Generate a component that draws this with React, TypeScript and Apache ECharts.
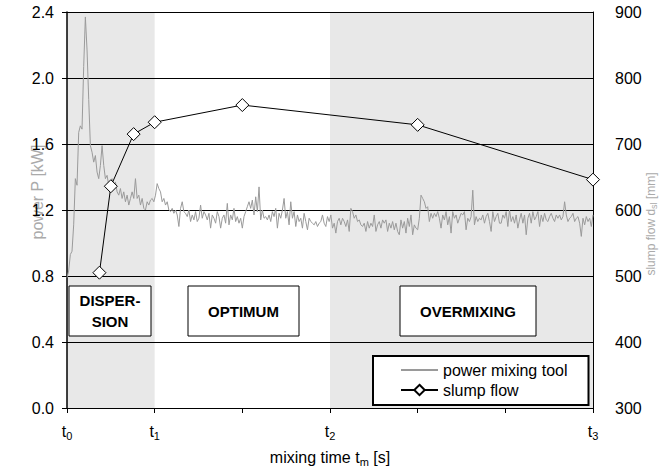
import React, { useEffect, useRef } from 'react';
import * as echarts from 'echarts';

// power of the mixing tool [kW], uniformly sampled from t0 to t3
const powerP = [
  0.79, 0.83, 0.93, 0.95, 1.11, 1.39, 1.35, 1.67, 1.71, 1.69,
  2.07, 2.37, 2.17, 1.87, 1.59, 1.55, 1.49, 1.53, 1.43, 1.39,
  1.47, 1.59, 1.47, 1.39, 1.41, 1.35, 1.37, 1.39, 1.33, 1.37,
  1.31, 1.29, 1.33, 1.27, 1.31, 1.25, 1.29, 1.23, 1.27, 1.31,
  1.27, 1.39, 1.27, 1.29, 1.23, 1.27, 1.21, 1.2, 1.25, 1.23,
  1.26, 1.27, 1.25, 1.29, 1.36, 1.33, 1.31, 1.25, 1.27, 1.23,
  1.25, 1.2, 1.19, 1.21, 1.18, 1.2, 1.17, 1.1, 1.21, 1.25,
  1.19, 1.18, 1.16, 1.2, 1.13, 1.17, 1.14, 1.19, 1.13, 1.15,
  1.23, 1.15, 1.19, 1.17, 1.14, 1.18, 1.09, 1.17, 1.15, 1.12,
  1.19, 1.16, 1.09, 1.15, 1.17, 1.12, 1.24, 1.11, 1.17, 1.14,
  1.21, 1.13, 1.16, 1.12, 1.15, 1.09, 1.16, 1.19, 1.22, 1.25,
  1.21, 1.26, 1.17, 1.28, 1.19, 1.34, 1.14, 1.2, 1.15, 1.16,
  1.14, 1.17,
  1.13, 1.19, 1.16, 1.21, 1.09, 1.18, 1.15, 1.2, 1.27, 1.15,
  1.19, 1.11, 1.25, 1.15, 1.19, 1.1, 1.17, 1.13, 1.15, 1.09,
  1.18, 1.13, 1.08, 1.15, 1.13, 1.12, 1.11, 1.13, 1.1, 1.12,
  1.13, 1.17, 1.12, 1.1, 1.16, 1.13, 1.17, 1.09, 1.12, 1.06,
  1.13, 1.15, 1.11, 1.15, 1.13, 1.1, 1.14, 1.07, 1.21, 1.19,
  1.15, 1.17, 1.13, 1.14, 1.11, 1.1, 1.12, 1.07, 1.13, 1.09,
  1.12, 1.1, 1.17, 1.07, 1.11, 1.13, 1.09, 1.14, 1.12,
  1.14, 1.07, 1.12, 1.09, 1.13, 1.08, 1.12, 1.07, 1.05, 1.14,
  1.09, 1.13, 1.06, 1.15, 1.1, 1.17, 1.05, 1.11, 1.09, 1.08,
  1.15, 1.29, 1.27, 1.25, 1.21, 1.22, 1.13, 1.18, 1.15, 1.18,
  1.16, 1.19, 1.15, 1.09, 1.17, 1.14, 1.19, 1.11, 1.16, 1.06,
  1.19, 1.15, 1.17, 1.12, 1.15, 1.18, 1.17, 1.19, 1.08, 1.15,
  1.13, 1.16, 1.32, 1.11, 1.16, 1.13, 1.15, 1.14, 1.17, 1.12,
  1.16, 1.18, 1.13, 1.07, 1.19, 1.13, 1.16, 1.18, 1.12,
  1.12, 1.17, 1.15, 1.19, 1.1, 1.2, 1.13, 1.16, 1.12, 1.17,
  1.09, 1.14, 1.18, 1.12, 1.17, 1.05, 1.15, 1.18, 1.12, 1.19,
  1.14, 1.16, 1.19, 1.1, 1.17, 1.13, 1.18, 1.14, 1.13, 1.16,
  1.18, 1.15, 1.13, 1.17, 1.15, 1.17, 1.14, 1.16, 1.25, 1.17,
  1.13, 1.15, 1.16, 1.18, 1.13, 1.15, 1.16, 1.12, 1.04, 1.15,
  1.11, 1.16, 1.13, 1.15, 1.1, 1.17,
];

// slump flow measurements
const slumpTime = [0.37, 0.5, 0.76, 1.0, 2.0, 4.0, 6.0];
const slumpFlow = [505, 636, 715, 733, 759, 729, 646];

// x axis: t0..t3 (tick positions in axis units)
const T_MAX = 6;
const timeLabels: Record<number, string> = { 0: '0', 1: '1', 3: '2', 6: '3' };

// shaded phases [from, to]
const shadedPhases = [
  [0, 1],
  [3, 6],
];

const powerAxis = { min: 0, max: 2.4, interval: 0.4 };
const slumpAxis = { min: 300, max: 900, interval: 100 };

const seriesNames = ['power mixing tool', 'slump flow'];

export default function App() {
  const ref = useRef<HTMLDivElement>(null);

  useEffect(() => {
    if (!ref.current) return;
    const chart = echarts.init(ref.current, undefined, { renderer: 'svg' });
    const n = powerP.length;
    const powerData = powerP.map((v, i) => [(i * T_MAX) / (n - 1), v]);
    const slumpData = slumpTime.map((t, i) => [t, slumpFlow[i]]);
    const font = 'Arial, "Liberation Sans", sans-serif';

    const phaseBox = (x: number, w: number, lines: string[]) => ({
      type: 'group',
      z: 100,
      children: [
        {
          type: 'rect',
          shape: { x, y: 286, width: w, height: 50 },
          style: { fill: '#fff', stroke: '#000', lineWidth: 1 },
        },
        {
          type: 'text',
          x: x + w / 2,
          y: 311,
          style: {
            text: lines.join('\n'),
            font: `bold 15px ${font}`,
            fill: '#000',
            align: 'center',
            verticalAlign: 'middle',
            lineHeight: 21,
          },
        },
      ],
    });

    chart.setOption({
      animation: false,
      backgroundColor: '#fff',
      textStyle: { fontFamily: font },
      grid: { left: 67, right: 75, top: 12, bottom: 60 },
      legend: {
        data: [
          {
            name: seriesNames[0],
            itemStyle: { color: 'transparent', borderColor: 'transparent', borderWidth: 0, opacity: 0 },
          },
          { name: seriesNames[1] },
        ],
        orient: 'vertical',
        left: 373,
        top: 356,
        backgroundColor: '#fff',
        borderColor: '#000',
        borderWidth: 2,
        borderRadius: 0,
        padding: [6, 21, 7, 27],
        itemGap: 4,
        itemWidth: 37,
        itemHeight: 13,
        textStyle: { fontSize: 16, color: '#000', fontFamily: font },
      },
      xAxis: {
        type: 'value',
        min: 0,
        max: T_MAX,
        interval: 1,
        axisLine: { show: true, lineStyle: { color: '#000', width: 1 } },
        axisTick: { show: true, length: 5, lineStyle: { color: '#000' } },
        splitLine: { show: false },
        axisLabel: {
          margin: 14,
          fontSize: 16,
          color: '#000',
          formatter: (v: number) => (timeLabels[v] != null ? `t{s|${timeLabels[v]}}` : ''),
          rich: { s: { fontSize: 11, padding: [8, 0, 0, 0], color: '#000' } },
        },
        name: 'mixing time t{s|m} [s]',
        nameLocation: 'middle',
        nameGap: 40,
        nameTextStyle: {
          fontSize: 16,
          color: '#000',
          rich: { s: { fontSize: 11, padding: [8, 0, 0, 0], color: '#000' } },
        },
      },
      yAxis: [
        {
          type: 'value',
          ...powerAxis,
          position: 'left',
          axisLine: { show: true, lineStyle: { color: '#000', width: 1.5 } },
          axisTick: { show: true, length: 5, lineStyle: { color: '#000' } },
          splitLine: { show: true, lineStyle: { color: '#000', width: 1 } },
          axisLabel: {
            margin: 13,
            fontSize: 16,
            color: '#000',
            formatter: (v: number) => v.toFixed(1),
          },
        },
        {
          type: 'value',
          ...slumpAxis,
          position: 'right',
          axisLine: { show: true, lineStyle: { color: '#000', width: 1 } },
          axisTick: { show: false },
          splitLine: { show: false },
          axisLabel: { margin: 22, fontSize: 16, color: '#000' },
        },
      ],
      series: [
        {
          name: 'phases',
          type: 'line',
          data: [],
          z: -1,
          silent: true,
          markArea: {
            z: -1,
            silent: true,
            itemStyle: { color: '#e8e8e8' },
            data: shadedPhases.map(([a, b]) => [{ xAxis: a }, { xAxis: b }]),
          },
        },
        {
          name: seriesNames[0],
          type: 'line',
          data: powerData,
          yAxisIndex: 0,
          showSymbol: false,
          symbol: 'none',
          lineStyle: { color: '#9a9a9a', width: 1 },
          itemStyle: { color: '#9a9a9a' },
          z: 3,
        },
        {
          name: seriesNames[1],
          type: 'line',
          data: slumpData,
          yAxisIndex: 1,
          symbol: 'diamond',
          symbolSize: 13,
          lineStyle: { color: '#000', width: 1 },
          itemStyle: { color: '#fff', borderColor: '#000', borderWidth: 1 },
          z: 4,
        },
      ],
      graphic: [
        phaseBox(69, 82, ['DISPER-', 'SION']),
        phaseBox(188, 111, ['OPTIMUM']),
        phaseBox(400, 136, ['OVERMIXING']),
        {
          type: 'text',
          x: 37,
          y: 192,
          rotation: Math.PI / 2,
          style: {
            text: 'power P [kW]',
            font: `16px ${font}`,
            fill: '#aaa',
            align: 'center',
            verticalAlign: 'middle',
          },
        },
        {
          type: 'text',
          x: 651,
          y: 224,
          rotation: Math.PI / 2,
          style: {
            text: 'slump flow d{s|sl} [mm]',
            font: `12px ${font}`,
            fill: '#aaa',
            align: 'center',
            verticalAlign: 'middle',
            rich: { s: { fontSize: 9, fill: '#aaa', padding: [5, 0, 0, 0] } },
          },
        },
      ],
    });

    return () => chart.dispose();
  }, []);

  return (
    <div
      ref={ref}
      style={{ position: 'absolute', left: 0, top: 0, width: 668, height: 472, background: '#fff' }}
    />
  );
}
